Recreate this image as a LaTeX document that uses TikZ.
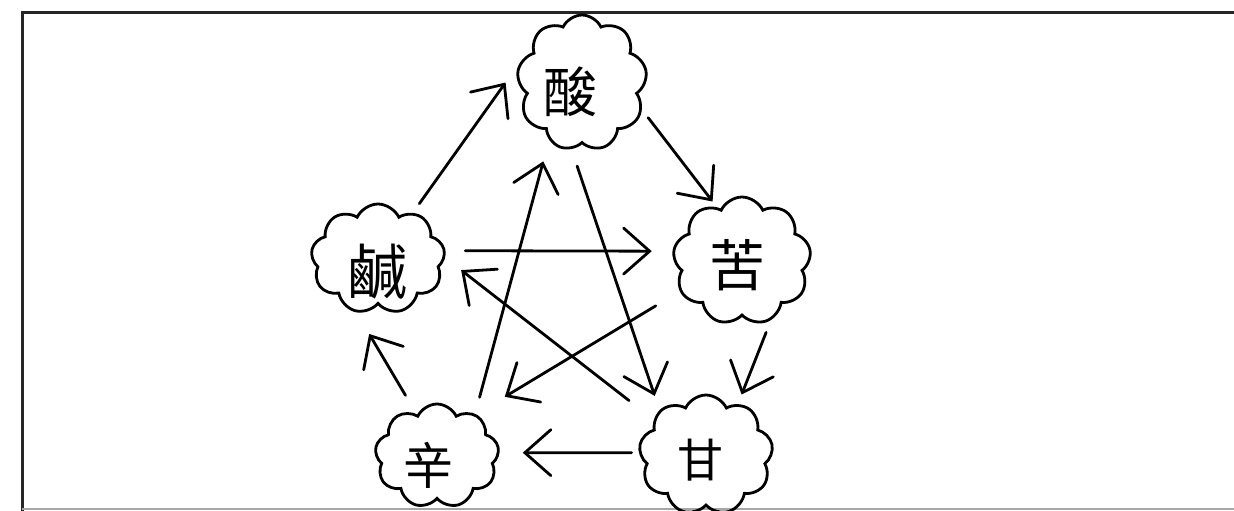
\documentclass[tikz,border=0pt]{standalone}
\usepackage{fontspec}
\newfontfamily\cjk{Noto Sans CJK TC}
\usetikzlibrary{shapes.symbols,arrows.meta}
\begin{document}
\begin{tikzpicture}[x=1pt,y=-1pt,
  puff/.style={cloud, draw, line width=2.8pt, cloud puffs=9, cloud puff arc=130, cloud ignores aspect, inner sep=0pt},
  glyph/.style={inner sep=0pt},
  arr/.style={line width=2.8pt, line cap=round, -{Straight Barb[length=26pt,width=46pt,line cap=round]}}]
\clip (0,0) rectangle (1234,511);
\fill[white] (0,0) rectangle (1234,511);
% frame
\draw[line width=3pt, black!85] (22,511) -- (22,13) -- (1234,13);
\draw[line width=2pt, black!35] (22,509) -- (1234,509);
% clouds
\node[puff, minimum width=130pt, minimum height=136pt] (S) at (582,83) {};
\node[puff, minimum width=138pt, minimum height=128pt] (K) at (742,261) {};
\node[puff, minimum width=134pt, minimum height=120pt] (G) at (706,455) {};
\node[puff, minimum width=124pt, minimum height=104pt] (X) at (437,456) {};
\node[puff, minimum width=134pt, minimum height=110pt] (H) at (378,259) {};
% glyphs
\node[glyph, font=\cjk\fontsize{54}{54}\selectfont] (tS) at (570,92) {酸};
\node[glyph, font=\cjk\fontsize{56}{56}\selectfont] (tK) at (737,265) {苦};
\node[glyph, font=\cjk\fontsize{46}{46}\selectfont] (tG) at (700,460) {甘};
\node[glyph, font=\cjk\fontsize{50}{50}\selectfont] (tX) at (428,465) {辛};
\node[glyph, font=\cjk\fontsize{60}{60}\selectfont] (tH) at (377,272) {鹹};
% generating cycle
\draw[arr, shorten <=11pt, shorten >=29pt] (H.53.6) -- (S.158.7);
\draw[arr, shorten <=10pt, shorten >=7pt] (S.-24.4) -- (K.115.3);
\draw[arr, shorten <=13pt, shorten >=10pt] (K.-64.9) -- (G.58.3);
\draw[arr, shorten <=7pt, shorten >=23pt] (G.178.3) -- (X.3.7);
\draw[arr, shorten <=21.5pt, shorten >=25pt] (X.116.3) -- (H.248.3);
% overcoming star
\draw[arr, shorten <=19.7pt, shorten >=20.7pt] (H.7) -- (K.172.5);
\draw[arr, shorten <=28pt, shorten >=33.5pt] (K.206.7) -- (X.47.6);
\draw[arr, shorten <=17pt, shorten >=22pt] (X.48.6) -- (S.240.6);
\draw[arr, shorten <=17.6pt, shorten >=15pt] (S.261.9) -- (G.136.7);
\draw[arr, shorten <=31pt, shorten >=20pt] (G.146.1) -- (H.1.2);
\end{tikzpicture}
\end{document}
